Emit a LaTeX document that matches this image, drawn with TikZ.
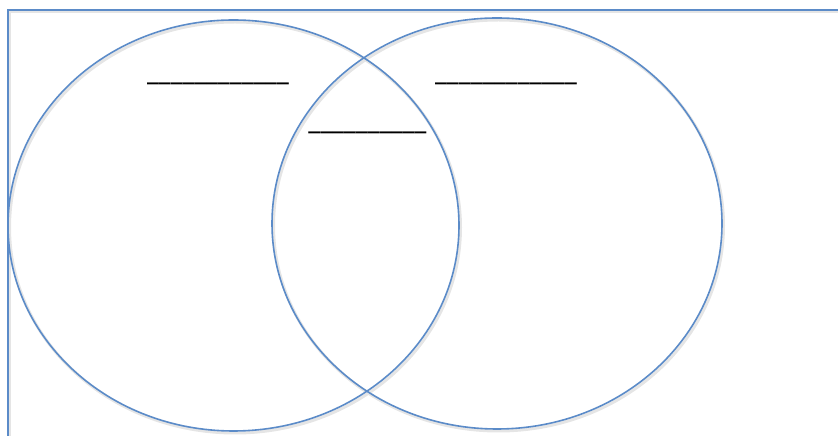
\documentclass[tikz,border=0pt]{standalone}
\usepackage{fontspec}
\setmainfont{Carlito}
\usetikzlibrary{shapes.geometric}
\definecolor{vblue}{HTML}{5B8BC8}
\tikzset{
  vset/.style={ellipse, draw=vblue, line width=1.6pt, inner sep=0pt, outer sep=0pt},
  vshadow/.style={ellipse, draw=black!10, line width=3pt, inner sep=0pt, outer sep=0pt},
  blank/.style={inner sep=0pt, anchor=base, font=\fontsize{23.7}{28}\selectfont\bfseries}
}
\begin{document}
\begin{tikzpicture}[x=1pt,y=1pt]
\useasboundingbox (0,0) rectangle (838,436);
% frame with faint shadow
\draw[black!10, line width=3pt] (9.5,0) -- (9.5,424) -- (838,424);
\draw[vblue, line width=1.8pt] (8,0) -- (8,426) -- (838,426);
% shadows
\node[vshadow, minimum width=451pt, minimum height=411pt] (Ls) at (235,208.5) {};
\node[vshadow, minimum width=450pt, minimum height=411pt] (Rs) at (498.5,210.5) {};
% circles
\node[vset, minimum width=451pt, minimum height=411pt] (L) at (233.5,210.5) {};
\node[vset, minimum width=450pt, minimum height=411pt] (R) at (497,212.5) {};
% blanks
\node[blank] (tl) at (218,354) {\_\_\_\_\_\_\_\_\_\_\_\_};
\node[blank] (tr) at (506,354) {\_\_\_\_\_\_\_\_\_\_\_\_};
\node[blank] (tm) at (367.5,305) {\_\_\_\_\_\_\_\_\_\_};
\end{tikzpicture}
\end{document}
